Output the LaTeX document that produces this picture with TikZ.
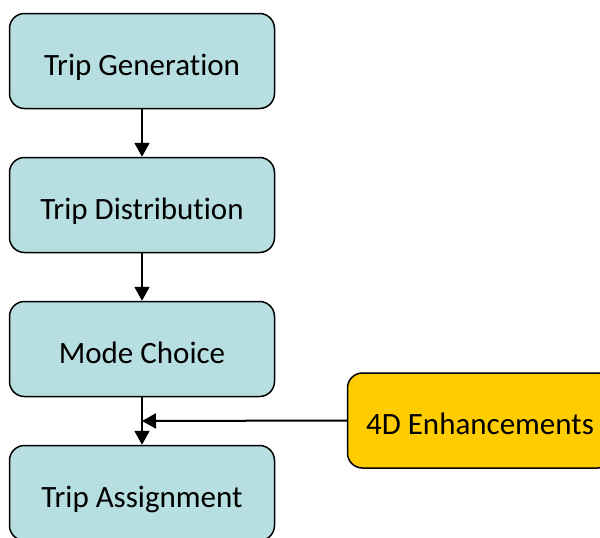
\documentclass[tikz,border=0pt]{standalone}
\usepackage{fontspec}
\setmainfont{Carlito}[Ligatures=NoCommon]
\usetikzlibrary{arrows.meta}
\definecolor{stepfill}{RGB}{183,222,225}
\definecolor{enhfill}{RGB}{255,204,0}
\begin{document}
\begin{tikzpicture}[x=1pt,y=-1pt,
  stagebox/.style={draw=black, line width=1.5pt, rounded corners=15pt,
    minimum width=265pt, minimum height=95pt, inner sep=0pt,
    text height=28pt, text depth=0pt,
    font=\fontsize{31}{36}\selectfont},
  flowstage/.style={stagebox, fill=stepfill},
  extrastage/.style={stagebox, fill=enhfill},
  flowarrow/.style={draw=black, line width=2pt, -{Triangle[length=14pt,width=15pt]}}]
  \useasboundingbox (0,0) rectangle (600,538);
  \clip (0,0) rectangle (600,538);
  \node[flowstage] (gen)  at (142,61)  {Trip Generation};
  \node[flowstage] (dist) at (142,205) {Trip Distribution};
  \node[flowstage] (mode) at (142,349) {Mode Choice};
  \node[flowstage] (assign) at (142,493) {Trip Assignment};
  \node[extrastage] (enh) at (480,420.5) {4D Enhancements};
  \coordinate (join) at (142,421);
  \draw[flowarrow] (gen.south) -- (dist.north);
  \draw[flowarrow] (dist.south) -- (mode.north);
  \draw[flowarrow] (mode.south) -- (assign.north);
  \draw[flowarrow] (enh.west) -- (join);
\end{tikzpicture}
\end{document}
